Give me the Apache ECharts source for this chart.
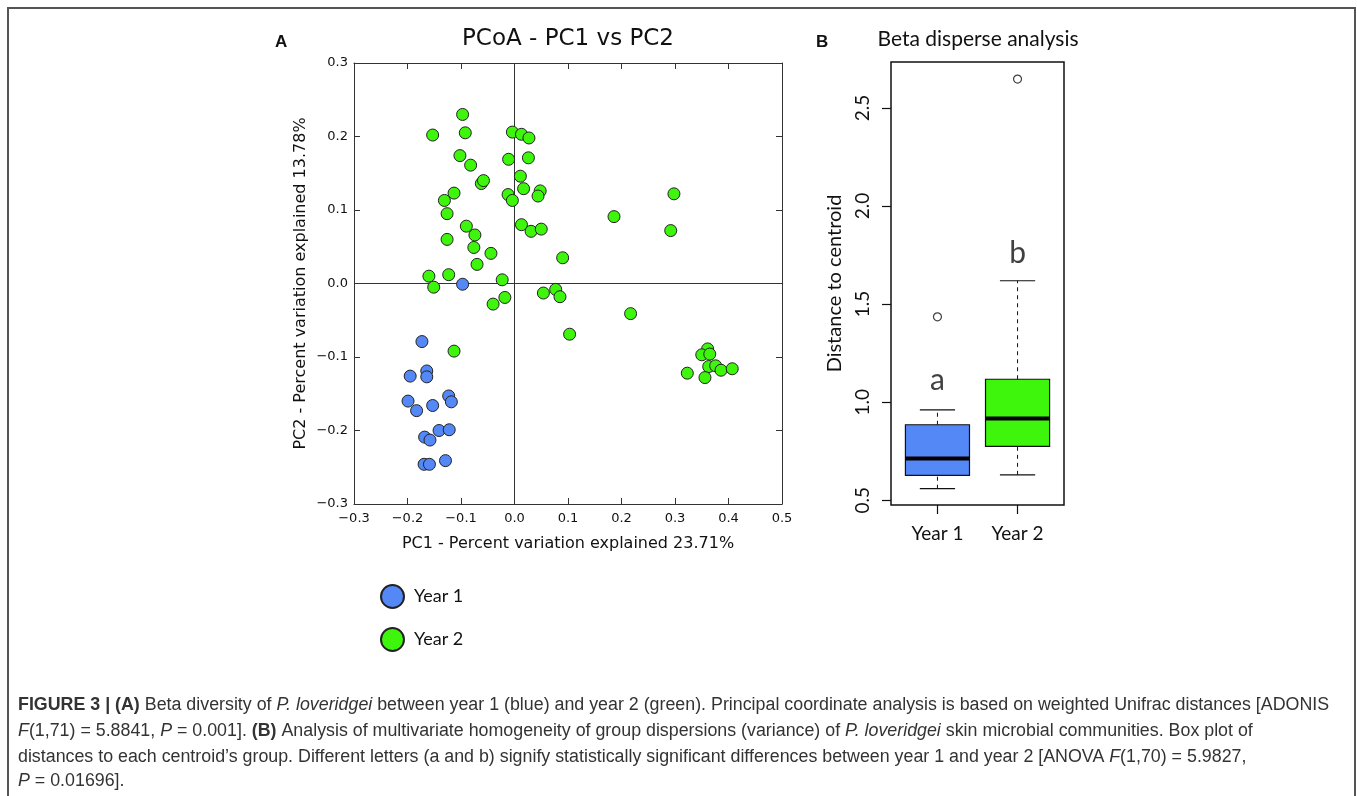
<!DOCTYPE html>
<html>
<head>
<meta charset="utf-8">
<title>Figure 3</title>
<script src="https://cdn.jsdelivr.net/npm/echarts@6.0.0/dist/echarts.min.js"></script>
<style>
  html, body { margin: 0; padding: 0; background: #fff; }
  #main { width: 1357px; height: 796px; }
</style>
</head>
<body>
<div id="main"></div>
<script>
// panel A - PCoA coordinates (PC1, PC2)
const year1Points = [
  [-0.097, -0.001], [-0.173, -0.079], [-0.195, -0.126], [-0.164, -0.119], [-0.164, -0.127],
  [-0.199, -0.160], [-0.183, -0.173], [-0.153, -0.166], [-0.123, -0.153], [-0.118, -0.161],
  [-0.141, -0.200], [-0.122, -0.199], [-0.168, -0.209], [-0.158, -0.213], [-0.129, -0.241],
  [-0.169, -0.246], [-0.159, -0.246]
];
const year2Points = [
  [-0.097, 0.230], [-0.153, 0.202], [-0.092, 0.205], [-0.004, 0.206], [0.013, 0.203],
  [0.027, 0.198], [-0.102, 0.174], [-0.082, 0.161], [-0.011, 0.169], [0.026, 0.171],
  [-0.062, 0.136], [-0.058, 0.140], [0.011, 0.146], [-0.113, 0.123], [-0.131, 0.113],
  [0.017, 0.129], [0.048, 0.126], [0.044, 0.119], [-0.012, 0.121], [-0.004, 0.113],
  [-0.126, 0.095], [0.298, 0.122], [0.186, 0.091], [0.292, 0.072], [-0.090, 0.078],
  [-0.074, 0.066], [0.013, 0.080], [0.031, 0.071], [0.050, 0.074], [-0.126, 0.060],
  [-0.076, 0.049], [-0.044, 0.041], [-0.070, 0.026], [0.090, 0.035], [-0.160, 0.010],
  [-0.123, 0.012], [-0.151, -0.005], [-0.023, 0.005], [0.054, -0.013], [0.077, -0.008],
  [0.085, -0.018], [-0.018, -0.019], [-0.040, -0.028], [0.217, -0.041], [0.103, -0.069],
  [-0.113, -0.092], [0.361, -0.089], [0.350, -0.097], [0.365, -0.096], [0.363, -0.113],
  [0.376, -0.112], [0.386, -0.118], [0.407, -0.116], [0.323, -0.122], [0.356, -0.128]
];

// panel B - distance to centroid, box stats: [low whisker, Q1, median, Q3, high whisker]
const groups = ['Year 1', 'Year 2'];
const boxStats = [
  [0.559, 0.627, 0.713, 0.885, 0.961],
  [0.630, 0.775, 0.917, 1.117, 1.619]
];
const outliers = [[1, 1.435], [2, 2.647]];
const groupLetters = ['a', 'b'];
const letterHeights = [1.11, 1.76];
const distTicks = [0.5, 1.0, 1.5, 2.0, 2.5];

const BLUE = '#5488f6';
const GREEN = '#3ef60c';
const DV = 'DejaVu Sans';
const SANS = 'Lato';

const fmtPc = v => (Math.abs(v) < 1e-9 ? '0.0' : v.toFixed(1).replace('-', '\u2212'));

const myChart = echarts.init(document.getElementById('main'));

const captionStyle = {
  fontFamily: 'Liberation Sans', fontSize: 18, fill: '#333',
  rich: {
    b: { fontFamily: 'Liberation Sans', fontSize: 18, fontWeight: 'bold', fill: '#333' },
    i: { fontFamily: 'Liberation Sans', fontSize: 18, fontStyle: 'italic', fill: '#333' }
  }
};
const captionLines = [
  '{b|FIGURE 3 | (A)} Beta diversity of {i|P. loveridgei} between year 1 (blue) and year 2 (green). Principal coordinate analysis is based on weighted Unifrac distances [ADONIS',
  '{i|F}(1,71) = 5.8841, {i|P} = 0.001]. {b|(B)} Analysis of multivariate homogeneity of group dispersions (variance) of {i|P. loveridgei} skin microbial communities. Box plot of',
  'distances to each centroid\u2019s group. Different letters (a and b) signify statistically significant differences between year 1 and year 2 [ANOVA {i|F}(1,70) = 5.9827,',
  '{i|P} = 0.01696].'
];
const captionY = [705, 731, 757, 781];

const graphics = [
  { type: 'rect', shape: { x: 8, y: 8, width: 1347, height: 900 },
    style: { fill: 'none', stroke: '#555', lineWidth: 2 }, silent: true },
  { type: 'text', x: 275, y: 42, style: { text: 'A', font: 'bold 17px "Liberation Sans"', fill: '#111', textVerticalAlign: 'middle' } },
  { type: 'text', x: 568, y: 39, style: { text: 'PCoA - PC1 vs PC2', font: '23px "DejaVu Sans"', fill: '#111', textAlign: 'center', textVerticalAlign: 'middle' } },
  { type: 'text', x: 816, y: 42, style: { text: 'B', font: 'bold 17px "Liberation Sans"', fill: '#111', textVerticalAlign: 'middle' } },
  { type: 'text', x: 978, y: 39, style: { text: 'Beta disperse analysis', font: '21px Lato', fill: '#111', textAlign: 'center', textVerticalAlign: 'middle' } }
];
captionLines.forEach((t, i) => {
  graphics.push({
    type: 'text', x: 18, y: captionY[i], scaleX: 0.99,
    style: Object.assign({ text: t, textVerticalAlign: 'middle' }, captionStyle)
  });
});

const frameLine = { color: '#333', width: 1 };

let option = {
  backgroundColor: '#fff',
  animation: false,
  graphic: graphics,
  legend: {
    data: ['Year 1', 'Year 2'],
    orient: 'vertical',
    left: 375,
    top: 579,
    itemWidth: 23,
    itemHeight: 23,
    itemGap: 18,
    icon: 'circle',
    textStyle: { fontFamily: SANS, fontSize: 18, color: '#111', padding: [0, 0, 0, 5] }
  },
  grid: [
    { left: 354, top: 63, width: 428, height: 441 },
    { left: 891, top: 62, width: 173, height: 443, show: true, borderColor: '#111', borderWidth: 1.5, backgroundColor: 'transparent' }
  ],
  xAxis: [
    {
      gridIndex: 0, type: 'value', min: -0.3, max: 0.5, interval: 0.1, position: 'bottom',
      axisLine: { onZero: false, lineStyle: frameLine },
      axisTick: { inside: true, length: 6, lineStyle: frameLine },
      axisLabel: { formatter: fmtPc, fontFamily: DV, fontSize: 13, color: '#111', margin: 8 },
      splitLine: { show: false },
      name: 'PC1 - Percent variation explained 23.71%',
      nameLocation: 'middle', nameGap: 32,
      nameTextStyle: { fontFamily: DV, fontSize: 16, color: '#111' }
    },
    {
      gridIndex: 0, type: 'value', min: -0.3, max: 0.5, interval: 0.1, position: 'top',
      axisLine: { onZero: false, lineStyle: frameLine },
      axisTick: { inside: true, length: 6, lineStyle: frameLine },
      axisLabel: { show: false }, splitLine: { show: false }
    },
    {
      gridIndex: 1, type: 'value', min: 0.42, max: 2.58,
      axisLine: { show: false },
      axisTick: { customValues: [1, 2], length: 9, lineStyle: { color: '#111', width: 1.2 } },
      axisLabel: {
        customValues: [1, 2], formatter: v => groups[Math.round(v) - 1],
        fontFamily: SANS, fontSize: 19, color: '#111', margin: 19
      },
      splitLine: { show: false }
    }
  ],
  yAxis: [
    {
      gridIndex: 0, type: 'value', min: -0.3, max: 0.3, interval: 0.1, position: 'left',
      axisLine: { onZero: false, lineStyle: frameLine },
      axisTick: { inside: true, length: 6, lineStyle: frameLine },
      axisLabel: { formatter: fmtPc, fontFamily: DV, fontSize: 13, color: '#111', margin: 6 },
      splitLine: { show: false },
      name: 'PC2 - Percent variation explained 13.78%',
      nameLocation: 'middle', nameRotate: 90, nameGap: 45,
      nameTextStyle: { fontFamily: DV, fontSize: 16, color: '#111' }
    },
    {
      gridIndex: 0, type: 'value', min: -0.3, max: 0.3, interval: 0.1, position: 'right',
      axisLine: { onZero: false, lineStyle: frameLine },
      axisTick: { inside: true, length: 6, lineStyle: frameLine },
      axisLabel: { show: false }, splitLine: { show: false }
    },
    {
      gridIndex: 1, type: 'value', min: 0.476, max: 2.734,
      axisLine: { show: false },
      axisTick: { customValues: distTicks, length: 9, lineStyle: { color: '#111', width: 1.2 } },
      axisLabel: {
        customValues: distTicks, rotate: 90, formatter: v => v.toFixed(1),
        fontFamily: SANS, fontSize: 19, color: '#111', margin: 19
      },
      splitLine: { show: false },
      name: 'Distance to centroid',
      nameLocation: 'middle', nameRotate: 90, nameGap: 46,
      nameTextStyle: { fontFamily: SANS, fontSize: 20, color: '#111' }
    }
  ],
  series: [
    {
      name: 'Year 1', type: 'scatter', xAxisIndex: 0, yAxisIndex: 0,
      data: year1Points, symbolSize: 12, z: 3,
      itemStyle: { color: BLUE, borderColor: '#222', borderWidth: 1, opacity: 1 },
      markLine: {
        silent: true, symbol: 'none', z: 1,
        label: { show: false },
        lineStyle: { color: '#333', width: 1, type: 'solid' },
        data: [{ xAxis: 0 }, { yAxis: 0 }]
      }
    },
    {
      name: 'Year 2', type: 'scatter', xAxisIndex: 0, yAxisIndex: 0,
      data: year2Points, symbolSize: 12, z: 3,
      itemStyle: { color: GREEN, borderColor: '#222', borderWidth: 1, opacity: 1 }
    },
    {
      name: 'boxes', type: 'custom', xAxisIndex: 2, yAxisIndex: 2,
      data: boxStats.map((s, i) => [i + 1].concat(s)),
      encode: { x: 0, y: [1, 2, 3, 4, 5] },
      renderItem: function (params, api) {
        const x = api.value(0);
        const lo = api.coord([x, api.value(1)]);
        const q1 = api.coord([x, api.value(2)]);
        const med = api.coord([x, api.value(3)]);
        const q3 = api.coord([x, api.value(4)]);
        const hi = api.coord([x, api.value(5)]);
        const halfBox = api.size([0.4, 0])[0];
        const halfCap = api.size([0.22, 0])[0];
        const cx = q1[0];
        const dash = { stroke: '#111', lineWidth: 1, lineDash: [4, 4] };
        const solid = { stroke: '#111', lineWidth: 1.2 };
        return {
          type: 'group',
          children: [
            { type: 'line', shape: { x1: cx, y1: q3[1], x2: cx, y2: hi[1] }, style: dash },
            { type: 'line', shape: { x1: cx, y1: lo[1], x2: cx, y2: q1[1] }, style: dash },
            { type: 'line', shape: { x1: cx - halfCap, y1: hi[1], x2: cx + halfCap, y2: hi[1] }, style: solid },
            { type: 'line', shape: { x1: cx - halfCap, y1: lo[1], x2: cx + halfCap, y2: lo[1] }, style: solid },
            {
              type: 'rect',
              shape: { x: cx - halfBox, y: q3[1], width: halfBox * 2, height: q1[1] - q3[1] },
              style: { fill: params.dataIndex === 0 ? BLUE : GREEN, stroke: '#111', lineWidth: 1.2 }
            },
            { type: 'line', shape: { x1: cx - halfBox, y1: med[1], x2: cx + halfBox, y2: med[1] }, style: { stroke: '#000', lineWidth: 4 } }
          ]
        };
      }
    },
    {
      name: 'outliers', type: 'scatter', xAxisIndex: 2, yAxisIndex: 2,
      data: outliers, symbol: 'circle', symbolSize: 8,
      itemStyle: { color: '#fff', borderColor: '#111', borderWidth: 1.2 }
    },
    {
      name: 'letters', type: 'scatter', xAxisIndex: 2, yAxisIndex: 2,
      data: letterHeights.map((h, i) => [i + 1, h]),
      symbolSize: 1,
      itemStyle: { color: 'rgba(0,0,0,0)' },
      label: {
        show: true, position: 'inside',
        formatter: p => groupLetters[p.dataIndex],
        fontFamily: SANS, fontSize: 30, color: '#111'
      }
    }
  ]
};

myChart.setOption(option);
</script>
</body>
</html>
